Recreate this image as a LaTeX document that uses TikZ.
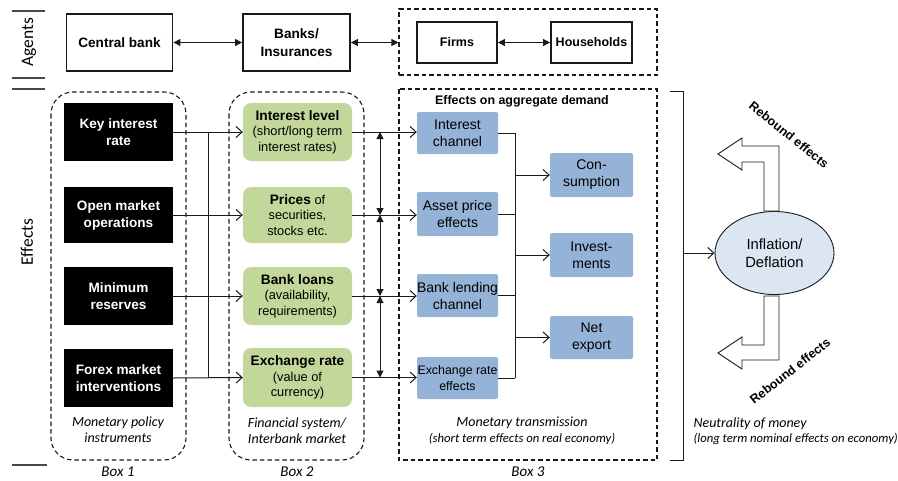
\documentclass[tikz,border=0pt]{standalone}
\usepackage{fontspec}
\setmainfont{Liberation Sans}
\newfontfamily\calfont{Carlito}
\usetikzlibrary{arrows.meta,calc,shapes.geometric}
\definecolor{gfill}{HTML}{C4D79B}
\definecolor{bfill}{HTML}{95B3D7}
\definecolor{efill}{HTML}{DCE6F2}
\definecolor{ink}{HTML}{1A1A1A}
\begin{document}
\begin{tikzpicture}[x=1pt,y=-1pt,
  agent/.style={draw=ink, line width=1.9pt, align=center, inner sep=0pt,
    font=\bfseries\fontsize{13.6}{18}\selectfont},
  inst/.style={fill=black, text=white, align=center, inner sep=0pt, minimum width=109pt,
    font=\bfseries\fontsize{13.6}{17}\selectfont},
  fin/.style={fill=gfill, rounded corners=8pt, align=center, inner sep=0pt, minimum width=109pt,
    font=\fontsize{12.8}{15.5}\selectfont},
  chan/.style={fill=bfill, rounded corners=2pt, align=center, inner sep=0pt,
    font=\fontsize{14}{17}\selectfont},
  dashedbox/.style={draw=ink, line width=1.1pt, dash pattern=on 4.5pt off 3pt},
  conn/.style={draw=ink, line width=1pt},
  openarrow/.style={conn, -{Straight Barb[length=6pt,width=11pt,line width=1pt]}},
  dbl/.style={conn, {Triangle[length=7pt,width=7pt]}-{Triangle[length=7pt,width=7pt]}},
  blockarrow/.style={draw=ink, line width=0.9pt, fill=white, line join=miter},
  side/.style={font=\calfont\fontsize{17.5}{19}\selectfont, rotate=90},
  note/.style={font=\calfont\itshape\fontsize{14}{16}\selectfont, align=center},
  smallnote/.style={font=\calfont\itshape\fontsize{12.7}{14}\selectfont},
  boxlbl/.style={font=\calfont\itshape\fontsize{15}{17}\selectfont},
  rebound/.style={font=\bfseries\fontsize{12.5}{14}\selectfont},
  marker/.style={draw=ink!80, line width=1.3pt}
]
\useasboundingbox (0,0) rectangle (898,480);

% ---------- side markers ----------
\draw[marker] (12,11) -- (45,11);
\draw[marker] (12,78) -- (45,78);
\draw[marker] (12,89) -- (45,89);
\draw[marker] (12,465) -- (47,465);
\node[side] (agentslbl) at (29,42) {Agents};
\node[side] (effectslbl) at (27,242) {Effects};

% ---------- agents row ----------
\node[agent, minimum width=106pt, minimum height=57pt] (cb) at (119.5,42.5) {Central bank};
\node[agent, minimum width=107pt, minimum height=57pt] (banks) at (296.5,42.5) {Banks/\\Insurances};
\node[dashedbox, minimum width=258pt, minimum height=66pt, inner sep=0pt] (agbox) at (528,42) {};
\node[agent, minimum width=80pt, minimum height=41pt, font=\bfseries\fontsize{12.5}{15}\selectfont] (firms) at (457,42.5) {Firms};
\node[agent, minimum width=81pt, minimum height=41pt, font=\bfseries\fontsize{12.5}{15}\selectfont] (hh) at (591.5,42.5) {Households};
\draw[dbl] (cb.east) -- (banks.west);
\draw[dbl] (banks.east) -- (agbox.west |- banks.east);
\draw[dbl] (firms.east) -- (hh.west);

% ---------- boxes ----------
\draw[dashedbox, rounded corners=22pt] (51,92) rectangle (186,460);
\draw[dashedbox, rounded corners=22pt] (229,92) rectangle (364,460);
\draw[dashedbox] (399,89) rectangle (657,460);

% ---------- box 1: instruments ----------
\node[inst, minimum height=58pt] (k1) at (118.5,132) {Key interest\\rate};
\node[inst, minimum height=56pt] (k2) at (118.5,215) {Open market\\operations};
\node[inst, minimum height=58pt] (k3) at (118.5,296) {Minimum\\reserves};
\node[inst, minimum height=58pt] (k4) at (118.5,378) {Forex market\\interventions};

% ---------- box 2: financial system ----------
\node[fin, minimum height=58pt] (g1) at (297.5,132) {{\bfseries\fontsize{13.7}{15.5}\selectfont Interest level}\\(short/long term\\interest rates)};
\node[fin, minimum height=56pt] (g2) at (297.5,215) {{\bfseries\fontsize{13.7}{15.5}\selectfont Prices} of\\securities,\\stocks etc.};
\node[fin, minimum height=58pt] (g3) at (297.5,296) {{\bfseries\fontsize{13.7}{15.5}\selectfont Bank loans}\\(availability,\\requirements)};
\node[fin, minimum height=59pt] (g4) at (297.5,377.5) {{\bfseries\fontsize{13.7}{15.5}\selectfont Exchange rate}\\(value of\\currency)};

% ---------- box 3: transmission ----------
\node[font=\bfseries\fontsize{12.4}{14}\selectfont] (aggd) at (522,101) {Effects on aggregate demand};
\node[chan, minimum width=81pt, minimum height=42pt] (b1) at (457.5,133) {Interest\\channel};
\node[chan, minimum width=81pt, minimum height=44pt] (b2) at (457.5,214) {Asset price\\effects};
\node[chan, minimum width=81pt, minimum height=43pt] (b3) at (457.5,295.5) {Bank lending\\channel};
\node[chan, minimum width=81pt, minimum height=42pt, font=\fontsize{12.4}{16}\selectfont] (b4) at (457.5,378) {Exchange rate\\effects};
\node[chan, minimum width=83pt, minimum height=44pt] (c1) at (591.5,175) {Con-\\sumption};
\node[chan, minimum width=83pt, minimum height=44pt] (c2) at (591.5,255) {Invest-\\ments};
\node[chan, minimum width=83pt, minimum height=43pt] (c3) at (591.5,337.5) {Net\\export};

% ---------- connectors box1 -> box2 ----------
\coordinate (busa) at (208,0);
\foreach \i in {1,2,3,4} {
  \draw[openarrow] (k\i.east) -- (g\i.west);
}
\draw[conn] (busa |- k1.east) -- (busa |- k4.east);

% ---------- connectors box2 -> box3 ----------
\coordinate (busb) at (380,0);
\foreach \i in {1,2,3,4} {
  \draw[openarrow] (g\i.east) -- (g\i.east -| b\i.west);
}
\draw[dbl] (busb |- g1.east) -- (busb |- g2.east);
\draw[dbl] (busb |- g2.east) -- (busb |- g3.east);
\draw[dbl] (busb |- g3.east) -- (busb |- g4.east);

% ---------- channels -> demand ----------
\coordinate (busc) at (515,0);
\foreach \i in {1,2,3,4} {
  \draw[conn] (b\i.east) -- (busc |- b\i.east);
}
\draw[conn] (busc |- b1.east) -- (busc |- b4.east);
\foreach \i in {1,2,3} {
  \draw[openarrow] (busc |- c\i.west) -- (c\i.west);
}

% ---------- neutrality of money ----------
\coordinate (bracktop) at (683,91);
\coordinate (brackbot) at (683,460);
\draw[conn] (670,91) -- (bracktop) -- (brackbot) -- (670,460);
\node[draw=ink, line width=0.9pt, fill=efill, ellipse, minimum width=119pt, minimum height=83pt, inner sep=0pt,
  align=center, font=\fontsize{14.8}{18}\selectfont] (infl) at (774.5,253) {Inflation/\\Deflation};
\draw[openarrow] (bracktop |- infl.west) -- (infl.west);

\draw[blockarrow] (764,211) -- (764,162) -- (742,162) -- (742,170) -- (718,154) -- (742,138)
  -- (742,146) -- (779,146) -- (779,211) -- cycle;
\draw[blockarrow] (764,296) -- (764,345) -- (742,345) -- (742,337) -- (718,353) -- (742,369)
  -- (742,360) -- (779,360) -- (779,296) -- cycle;
\node[rebound, rotate=-39] (rb1) at (789,135) {Rebound effects};
\node[rebound, rotate=38] (rb2) at (790,371) {Rebound effects};

% ---------- labels ----------
\node[note] (l1) at (118,430) {Monetary policy\\instruments};
\node[note] (l2) at (297,431) {Financial system/\\Interbank market};
\node[note] (l3) at (522,423) {Monetary transmission};
\node[smallnote] (l3b) at (522,439) {(short term effects on real economy)};
\node[note, anchor=west] (l4) at (690,424) {Neutrality of money};
\node[smallnote, anchor=west] (l4b) at (690,439) {(long term nominal effects on economy)};
\node[boxlbl] (bx1) at (118,472) {Box 1};
\node[boxlbl] (bx2) at (297,472) {Box 2};
\node[boxlbl] (bx3) at (528,472) {Box 3};
\end{tikzpicture}
\end{document}
